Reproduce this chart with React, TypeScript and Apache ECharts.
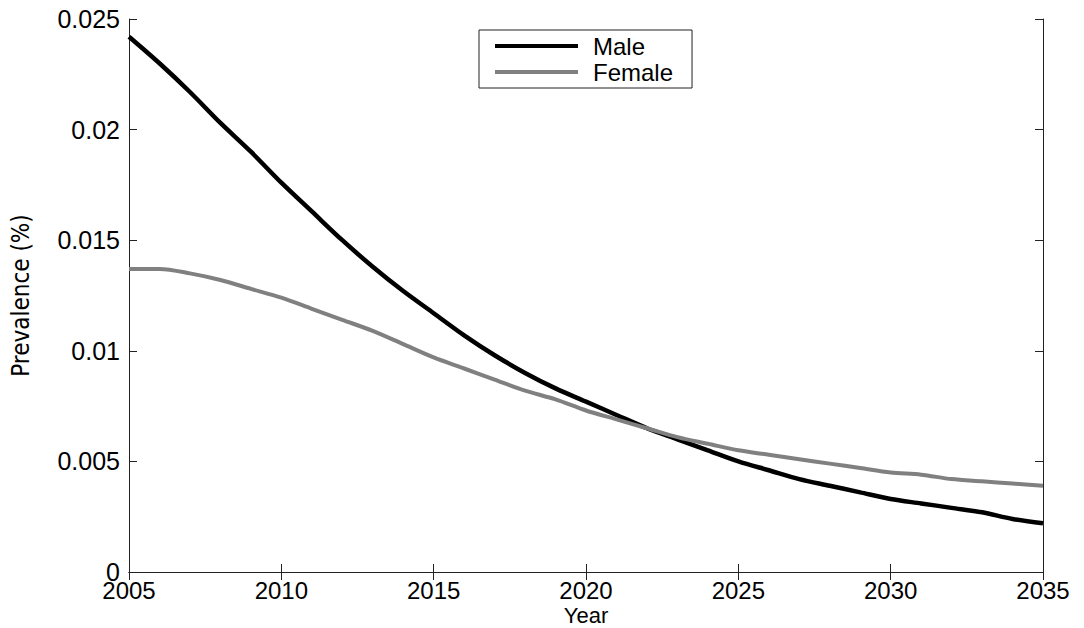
import React, { useEffect, useRef } from "react";
import * as echarts from "echarts";

const years = [
  2005, 2006, 2007, 2008, 2009, 2010, 2011, 2012, 2013, 2014, 2015, 2016, 2017, 2018, 2019, 2020,
  2021, 2022, 2023, 2024, 2025, 2026, 2027, 2028, 2029, 2030, 2031, 2032, 2033, 2034, 2035,
];
const male = [
  0.0242, 0.023, 0.0217, 0.0203, 0.019, 0.0176, 0.0163, 0.015, 0.0138, 0.0127, 0.0117, 0.0107,
  0.0098, 0.009, 0.0083, 0.0077, 0.0071, 0.0065, 0.006, 0.0055, 0.005, 0.0046, 0.0042, 0.0039,
  0.0036, 0.0033, 0.0031, 0.0029, 0.0027, 0.0024, 0.0022,
];
const female = [
  0.0137, 0.0137, 0.0135, 0.0132, 0.0128, 0.0124, 0.0119, 0.0114, 0.0109, 0.0103, 0.0097, 0.0092,
  0.0087, 0.0082, 0.0078, 0.0073, 0.0069, 0.0065, 0.0061, 0.0058, 0.0055, 0.0053, 0.0051, 0.0049,
  0.0047, 0.0045, 0.0044, 0.0042, 0.0041, 0.004, 0.0039,
];
const seriesNames = ["Male", "Female"];

const FONT = "'Liberation Sans', Arial, sans-serif";

export default function App() {
  const ref = useRef<HTMLDivElement>(null);
  useEffect(() => {
    if (!ref.current) return;
    const chart = echarts.init(ref.current, undefined, { renderer: "svg" });
    const axisCommon = {
      axisLine: { show: true, lineStyle: { color: "#222", width: 1 } },
      axisTick: { show: true, inside: true, length: 8, lineStyle: { color: "#222" } },
      splitLine: { show: false },
    };
    chart.setOption({
      animation: false,
      backgroundColor: "#fff",
      grid: {
        left: 129,
        right: 41,
        top: 19,
        bottom: 56,
        containLabel: false,
        outerBoundsMode: "none",
      },
      legend: {
        orient: "vertical",
        left: 479,
        top: 30,
        data: seriesNames,
        icon: "rect",
        borderColor: "#222",
        borderWidth: 1,
        padding: [3, 19, 3, 16],
        itemWidth: 83,
        itemHeight: 4,
        itemGap: 0,
        textStyle: {
          fontSize: 24,
          lineHeight: 26,
          fontFamily: FONT,
          color: "#000",
          padding: [0, 0, 0, 10],
        },
      },
      xAxis: [
        {
          type: "value",
          min: 2005,
          max: 2035,
          interval: 5,
          name: "Year",
          nameLocation: "middle",
          nameGap: 32,
          nameMoveOverlap: false,
          nameTextStyle: { fontSize: 22, lineHeight: 22, fontFamily: FONT, color: "#000" },
          axisLabel: {
            fontSize: 24,
            lineHeight: 20,
            fontFamily: FONT,
            color: "#000",
            margin: 8,
            formatter: (v: number) => String(v),
          },
          ...axisCommon,
        },
        {
          type: "value",
          position: "top",
          min: 2005,
          max: 2035,
          interval: 5,
          axisLabel: { show: false },
          ...axisCommon,
        },
      ],
      yAxis: [
        {
          type: "value",
          min: 0,
          max: 0.025,
          interval: 0.005,
          name: "Prevalence (%)",
          nameLocation: "middle",
          nameRotate: 90,
          nameGap: 96,
          nameMoveOverlap: false,
          nameTextStyle: {
            fontSize: 24,
            fontFamily: "'Liberation Sans Narrow', 'DejaVu Sans Condensed', sans-serif",
            color: "#000",
          },
          axisLabel: {
            fontSize: 25,
            lineHeight: 18,
            fontFamily: FONT,
            color: "#000",
            margin: 9,
          },
          ...axisCommon,
        },
        {
          type: "value",
          position: "right",
          min: 0,
          max: 0.025,
          interval: 0.005,
          axisLabel: { show: false },
          ...axisCommon,
        },
      ],
      series: [
        {
          name: seriesNames[0],
          type: "line",
          data: years.map((y, i) => [y, male[i]]),
          symbol: "none",
          smooth: 0.3,
          lineStyle: { color: "#000", width: 4.5 },
          itemStyle: { color: "#000" },
        },
        {
          name: seriesNames[1],
          type: "line",
          data: years.map((y, i) => [y, female[i]]),
          symbol: "none",
          smooth: 0.3,
          lineStyle: { color: "#808080", width: 4 },
          itemStyle: { color: "#808080" },
        },
      ],
    });
    return () => chart.dispose();
  }, []);
  return (
    <div
      ref={ref}
      style={{ position: "fixed", left: 0, top: 0, width: 1084, height: 628, background: "#fff" }}
    />
  );
}
